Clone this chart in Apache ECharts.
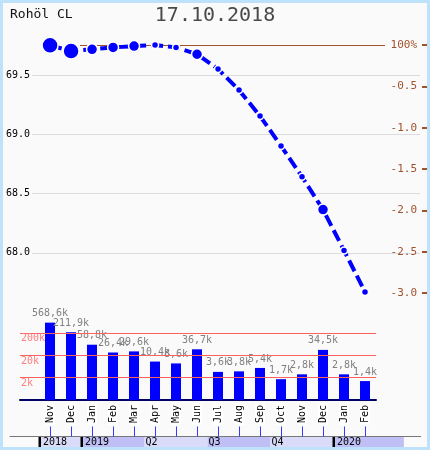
<!DOCTYPE html>
<html><head><meta charset="utf-8">
<script src="https://cdn.jsdelivr.net/npm/echarts@6/dist/echarts.min.js"></script>
<style>
html,body{margin:0;padding:0;background:#bfe2fb;width:430px;height:450px;overflow:hidden}
#c{position:absolute;left:3px;top:3px;width:424px;height:444px}
</style></head>
<body><div id="c"></div>
<script>
// ---- data ----
const titleText = 'Rohöl CL';
const dateText = '17.10.2018';
const months = ['Nov','Dec','Jan','Feb','Mar','Apr','May','Jun','Jul','Aug','Sep','Oct','Nov','Dec','Jan','Feb'];
const prices = [69.752, 69.704, 69.719, 69.735, 69.746, 69.755, 69.735, 69.677, 69.552, 69.374, 69.155, 68.903, 68.642, 68.365, 68.020, 67.669];
const volumes = [568600, 211900, 58800, 26400, 29600, 10400, 8600, 36700, 3600, 3800, 5400, 1700, 2800, 34500, 2800, 1400];
const volumeLevels = [2000, 20000, 200000];
const volumeLevelLabels = ['2k', '20k', '200k'];
const periodLabels = ['2018', '2019', 'Q2', 'Q3', 'Q4', '2020'];
const periodStart = [0, 2, 5, 8, 11, 14];
const periodMonths = [2, 3, 3, 3, 3, 3.35];

const MONO = 'DejaVu Sans Mono';
const BROWN = '#a0522d';

function dotSize(v) { return v >= 100000 ? 16 : (v >= 20000 ? 11 : 7); }
function fmtVol(v) { return (v / 1000).toFixed(1).replace('.', ',') + 'k'; }

const chart = echarts.init(document.getElementById('c'));
chart.setOption({
  backgroundColor: '#fafafa',
  animation: false,
  title: [
    { text: titleText, left: 7, top: 5.5, padding: 0,
      textStyle: { fontFamily: MONO, fontSize: 13, fontWeight: 'normal', color: '#111' } },
    { text: dateText, left: 'center', top: 3, padding: 0,
      textStyle: { fontFamily: MONO, fontSize: 20, fontWeight: 'normal', color: '#4a4a4a' } }
  ],
  grid: [
    { left: 29, right: 7, top: 13, height: 296 },          // 0 price line
    { left: 77, right: 42, top: 42, height: 248 },         // 1 zero-change rule
    { left: 17, right: 51, top: 307.4, height: 89.6 },     // 2 volume frame
    { left: 36.5, right: 51.5, top: 307.4, height: 89.6 }, // 3 volume bars
    { left: 36.5, right: 51.5, top: 423.5, height: 10 },   // 4 timeline
    { left: 7, right: 6.3, top: 433, height: 1 },          // 5 timeline rule
    { left: 380, right: 0, top: 42, height: 248 }          // 6 percent axis
  ],
  xAxis: [
    { gridIndex: 0, type: 'value', min: -0.857, max: 17.619, show: false },
    { gridIndex: 1, type: 'value', min: 0, max: 1, show: false },
    { gridIndex: 2, type: 'value', min: 0, max: 1, position: 'bottom',
      axisLine: { show: true, onZero: false, lineStyle: { color: '#000066', width: 2 } },
      axisTick: { show: false }, axisLabel: { show: false }, splitLine: { show: false } },
    { gridIndex: 3, type: 'category', data: months,
      axisLine: { show: false, onZero: false }, axisTick: { show: false }, splitLine: { show: false },
      axisLabel: { rotate: 90, margin: 3, interval: 0, fontFamily: MONO, fontSize: 10, color: '#000',
        backgroundColor: '#fff', padding: [0, 2, 0, 2] } },
    { gridIndex: 4, type: 'category', data: months, position: 'bottom',
      axisLine: { show: false, onZero: false }, axisLabel: { show: false },
      axisTick: { show: true, inside: true, length: 10, alignWithLabel: true, interval: 0,
        lineStyle: { color: '#3a3aff', width: 1 } } },
    { gridIndex: 5, type: 'value', min: 0, max: 1, position: 'top',
      axisLine: { show: true, onZero: false, lineStyle: { color: '#777', width: 1 } },
      axisTick: { show: false }, axisLabel: { show: false }, splitLine: { show: false } },
    { gridIndex: 6, type: 'value', min: 0, max: 1, show: false }
  ],
  yAxis: [
    { gridIndex: 0, type: 'value', min: 67.5, max: 70.0, interval: 0.5,
      axisLine: { show: false, onZero: false }, axisTick: { show: false },
      axisLabel: { margin: 2, fontFamily: MONO, fontSize: 10, color: '#000',
        showMinLabel: false, showMaxLabel: false, formatter: v => v.toFixed(1) },
      splitLine: { show: true, showMinLine: false, showMaxLine: false, lineStyle: { color: '#dcdcdc', width: 1 } } },
    { gridIndex: 1, type: 'value', min: -3, max: 0, show: false },
    { gridIndex: 2, type: 'log', min: 200, max: 2000000, show: false },
    { gridIndex: 3, type: 'log', min: 200, max: 2000000, show: false },
    { gridIndex: 4, type: 'value', min: 0, max: 1, show: false },
    { gridIndex: 5, type: 'value', min: 0, max: 1, show: false },
    { gridIndex: 6, type: 'value', position: 'right', min: -3, max: 0, interval: 0.5,
      axisLine: { show: false, onZero: false },
      axisTick: { show: true, inside: true, length: 5, lineStyle: { color: BROWN, width: 2 } },
      axisLabel: { inside: true, margin: 10, fontFamily: MONO, fontSize: 11, color: BROWN,
        formatter: v => v === 0 ? '100%' : v.toFixed(1) },
      splitLine: { show: false } }
  ],
  series: [
    { type: 'line', xAxisIndex: 2, yAxisIndex: 2, data: [], silent: true,
      markLine: { silent: true, symbol: 'none',
        lineStyle: { color: '#ff6060', width: 1, type: 'solid' },
        label: { show: true, position: 'insideStartBottom', formatter: '{b}', distance: [1, 1],
          fontFamily: MONO, fontSize: 10, color: '#ff8080' },
        data: volumeLevels.map((v, k) => ({ yAxis: v, name: volumeLevelLabels[k] })) } },
    { type: 'bar', xAxisIndex: 3, yAxisIndex: 3, data: volumes, barWidth: 10,
      itemStyle: { color: '#0000ff' },
      label: { show: true, position: 'top', distance: 4, fontFamily: MONO, fontSize: 10, color: '#808080',
        formatter: p => fmtVol(p.value) } },
    { type: 'line', xAxisIndex: 1, yAxisIndex: 1, data: [], silent: true,
      markLine: { silent: true, symbol: 'none', label: { show: false },
        lineStyle: { color: BROWN, width: 1, type: 'solid' },
        data: [{ yAxis: 0 }] } },
    { type: 'line', xAxisIndex: 0, yAxisIndex: 0,
      data: prices.map((p, i) => [i, p]),
      symbol: 'circle',
      symbolSize: (val, params) => dotSize(volumes[params.dataIndex]),
      showAllSymbol: true,
      lineStyle: { color: '#0000ff', width: 4, type: [12, 5] },
      itemStyle: { color: '#0000ff', borderColor: '#fff', borderWidth: 1.5 },
      z: 5 },
    { type: 'custom', xAxisIndex: 4, yAxisIndex: 4, clip: false,
      data: periodStart.map((s, k) => [s, periodMonths[k]]),
      renderItem: function (params, api) {
        const k = params.dataIndex;
        const p = api.coord([api.value(0), 0]);
        const bw = api.size([1, 0])[0];
        const x0 = p[0] - bw / 2;
        const w = api.value(1) * bw;
        const y0 = p[1] + 0.5;
        const isYear = /^\d{4}$/.test(periodLabels[k]);
        const children = [
          { type: 'rect', shape: { x: x0, y: y0, width: w, height: 11 },
            style: { fill: k % 2 === 0 ? '#dadaf9' : '#bfbff6' } }
        ];
        if (isYear) children.push({ type: 'rect', shape: { x: x0 - 1, y: y0, width: 2.5, height: 11 }, style: { fill: '#000' } });
        children.push({ type: 'text', style: { text: periodLabels[k], x: x0 + (isYear ? 3.5 : 1), y: y0 + 5.5,
          verticalAlign: 'middle', fill: '#000', fontSize: 10, fontFamily: MONO } });
        return { type: 'group', children: children };
      } }
  ]
});
</script>
</body></html>
